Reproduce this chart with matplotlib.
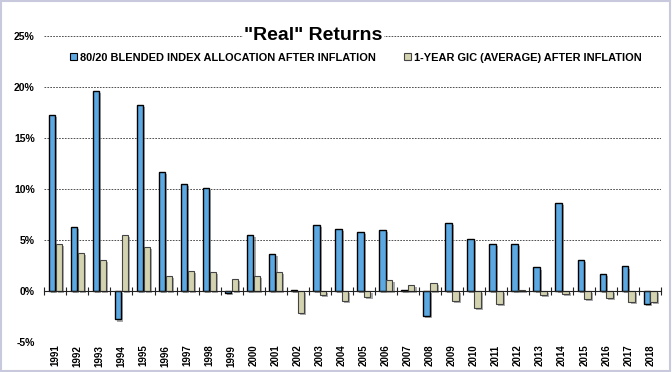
"""
"Real" returns: 80/20 blended index vs 1-year GIC, after inflation.
"""
from matplotlib import pyplot as plt
from matplotlib import patheffects as pe
from matplotlib.patches import Patch, Rectangle
from matplotlib.ticker import FuncFormatter
import numpy as np

plt.rcParams['font.family'] = ['Liberation Sans', 'DejaVu Sans']

years = [str(y) for y in range(1991, 2019)]
blended = [17.3, 6.3, 19.6, -2.8, 18.2, 11.7, 10.5, 10.1, -0.2, 5.5,
           3.6, 0.1, 6.5, 6.1, 5.75, 6.0, 0.05, -2.5, 6.7, 5.1,
           4.6, 4.6, 2.3, 8.6, 3.0, 1.7, 2.4, -1.3]
gic = [4.6, 3.7, 3.05, 5.5, 4.3, 1.45, 2.0, 1.9, 1.15, 1.5,
       1.9, -2.2, -0.4, -1.0, -0.6, 1.1, 0.6, 0.8, -0.95, -1.7,
       -1.25, 0.1, -0.4, -0.3, -0.8, -0.7, -1.1, -1.05]
series_names = ['80/20 BLENDED INDEX ALLOCATION AFTER INFLATION',
                '1-YEAR GIC (AVERAGE) AFTER INFLATION']
yticks = [-5, 0, 5, 10, 15, 20, 25]

blue = '#5CA8E2'
tan = '#D3D3AF'

fig = plt.figure(figsize=(6.72, 3.72), dpi=100)
fig.patches.append(Rectangle((0.002, 0.003), 0.995, 0.994, transform=fig.transFigure,
                             fill=False, edgecolor='#C9C9DD', linewidth=1.5))
ax = fig.add_axes([0.066, 0.081, 0.918, 0.822])

x = np.arange(len(years))
w = 0.29
shadow = [pe.withSimplePatchShadow(offset=(1.5, -1.5), shadow_rgbFace='#888888', alpha=0.7)]
b1 = ax.bar(x - w / 2 - 0.01, blended, w, color=blue, edgecolor='black', linewidth=1.0,
            zorder=3)
b2 = ax.bar(x + w / 2 + 0.01, gic, w, color=tan, edgecolor='#444444', linewidth=0.8,
            zorder=3)
for bar in list(b1) + list(b2):
    bar.set_path_effects(shadow)

ax.set_xlim(-0.5, len(years) - 0.5)
ax.set_ylim(-5, 25)
ax.set_yticks(yticks)
ax.yaxis.set_major_formatter(FuncFormatter(lambda v, p: f'{v:.0f}%'))
ax.tick_params(axis='y', length=0, pad=7, labelsize=7.5)
for lab in ax.get_yticklabels():
    lab.set_fontweight('bold')
ax.grid(axis='y', linestyle=(0, (2, 1.5)), color='#333333', linewidth=0.6, zorder=0)

for s in ['left', 'right', 'top']:
    ax.spines[s].set_visible(False)
ax.spines['bottom'].set_position(('data', 0))
ax.spines['bottom'].set_color('#222222')
ax.spines['bottom'].set_zorder(4)
ax.set_xticks([])
ax.set_xticks(np.arange(-0.5, len(years)), minor=True)
ax.tick_params(axis='x', which='minor', direction='inout', length=6, width=0.8,
               color='#222222')

sec = ax.secondary_xaxis(0)
sec.set_xticks(x)
sec.set_xticklabels(years, rotation=90, fontsize=7, fontweight='bold')
sec.tick_params(length=0, pad=2)
sec.spines['bottom'].set_visible(False)

fig.text(0.466, 0.905, '"Real" Returns', fontsize=14, fontweight='bold', ha='center',
         va='center', bbox=dict(facecolor='white', edgecolor='none', pad=1))

handles = [Patch(facecolor=blue, edgecolor='black', linewidth=0.8),
           Patch(facecolor=tan, edgecolor='#444444', linewidth=0.8)]
leg = fig.legend(handles, series_names, loc='center', bbox_to_anchor=(0.53, 0.845),
                 ncol=2, frameon=False, handlelength=0.6, handleheight=0.6,
                 handletextpad=0.3, columnspacing=2.6,
                 prop=dict(size=7.9, weight='bold'))

fig.savefig('out.png', dpi=100)
